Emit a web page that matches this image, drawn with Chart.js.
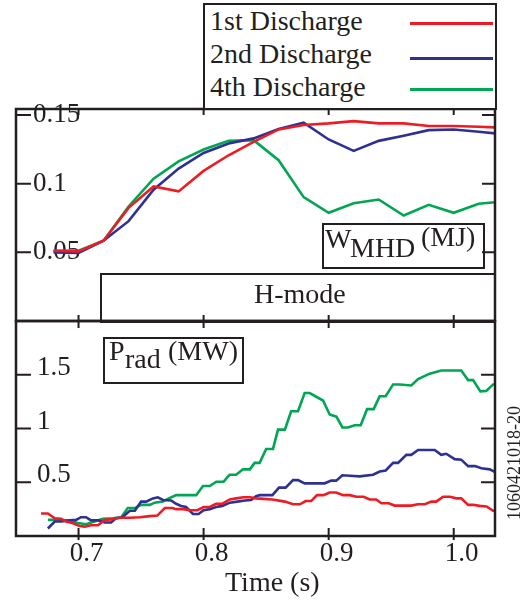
<!DOCTYPE html>
<html>
<head>
<meta charset="utf-8">
<script src="https://cdn.jsdelivr.net/npm/chart.js@4/dist/chart.umd.min.js"></script>
<style>
html,body{margin:0;padding:0;background:#fff;}
#wrap{position:relative;width:526px;height:600px;overflow:hidden;font-family:"Liberation Serif","Times New Roman",serif;color:#231f20;}
canvas{position:absolute;left:0;}
.box{position:absolute;border:2px solid #231f20;box-sizing:border-box;}
.t{position:absolute;white-space:nowrap;line-height:1;font-size:28px;}
.lg{position:absolute;height:3px;}
</style>
</head>
<body>
<div id="wrap">
  <canvas id="top" width="526" height="335" style="top:0"></canvas>
  <canvas id="bot" width="526" height="300" style="top:300px"></canvas>
</div>
<script>
// ---------- data ----------
const seriesNames = ['1st Discharge', '2nd Discharge', '4th Discharge'];
const seriesColors = ['#ed1c24', '#2e3192', '#00a651'];

// W_MHD (MJ) vs time (s)
const tW = [0.68,0.70,0.72,0.74,0.76,0.78,0.80,0.82,0.84,0.86,0.88,0.90,0.92,0.94,0.96,0.98,1.00,1.02,1.034];
const wRed   = [0.0512,0.0507,0.0585,0.0824,0.0980,0.0944,0.1093,0.1207,0.1305,0.1395,0.1427,0.1439,0.1456,0.1439,0.1439,0.1420,0.1420,0.1415,0.1410];
const wBlue  = [0.0500,0.0495,0.0585,0.0727,0.0956,0.1110,0.1224,0.1293,0.1330,0.1398,0.1444,0.1322,0.1239,0.1312,0.1349,0.1390,0.1395,0.1378,0.1366];
const wGreen = [0.0512,0.0512,0.0585,0.0834,0.1037,0.1163,0.1249,0.1312,0.1317,0.1171,0.0902,0.0788,0.0858,0.0885,0.0768,0.0846,0.0788,0.0854,0.0866];

// P_rad (MW) vs time (s)
const pRedT = [0.670,0.6755,0.681,0.686,0.690,0.695,0.701,0.705,0.710,0.7155,0.721,0.726,0.733,0.741,0.749,0.757,0.763,0.769,0.775,0.778,0.784,0.789,0.795,0.800,0.805,0.810,0.815,0.821,0.826,0.832,0.837,0.842,0.848,0.855,0.865,0.8715,0.877,0.8816,0.886,0.8907,0.896,0.9008,0.906,0.9115,0.917,0.922,0.928,0.9328,0.938,0.9422,0.948,0.9528,0.966,0.9715,0.977,0.9821,0.986,0.9915,0.997,1.002,1.006,1.0115,1.0155,1.0208,1.0262,1.0315,1.034];
const pRedV = [0.21,0.21,0.165,0.16,0.135,0.12,0.093,0.087,0.10,0.10,0.15,0.155,0.17,0.17,0.175,0.185,0.19,0.26,0.26,0.25,0.25,0.24,0.24,0.27,0.27,0.30,0.30,0.34,0.35,0.36,0.36,0.35,0.345,0.34,0.32,0.295,0.295,0.325,0.325,0.38,0.38,0.405,0.405,0.38,0.38,0.365,0.365,0.34,0.34,0.305,0.305,0.283,0.283,0.295,0.295,0.32,0.32,0.365,0.365,0.35,0.35,0.29,0.29,0.28,0.275,0.235,0.235];

const pBlueT = [0.6755,0.681,0.686,0.693,0.698,0.702,0.706,0.710,0.716,0.721,0.726,0.730,0.735,0.741,0.745,0.750,0.754,0.7595,0.7634,0.7675,0.774,0.778,0.782,0.786,0.7915,0.796,0.800,0.805,0.810,0.815,0.821,0.827,0.833,0.838,0.842,0.8448,0.855,0.8603,0.8656,0.8715,0.8755,0.8808,0.8968,0.9021,0.906,0.911,0.917,0.9248,0.9355,0.9408,0.9456,0.9515,0.9555,0.9621,0.966,0.9715,0.9848,0.990,0.994,1.0008,1.006,1.0115,1.017,1.0221,1.0288,1.034];
const pBlueV = [0.07,0.135,0.135,0.145,0.15,0.175,0.175,0.145,0.145,0.125,0.125,0.165,0.175,0.235,0.235,0.32,0.32,0.35,0.36,0.335,0.33,0.30,0.28,0.27,0.205,0.205,0.24,0.25,0.27,0.28,0.31,0.32,0.33,0.335,0.37,0.38,0.38,0.45,0.45,0.52,0.52,0.49,0.49,0.515,0.515,0.565,0.56,0.555,0.57,0.60,0.61,0.68,0.68,0.755,0.755,0.80,0.80,0.755,0.765,0.715,0.71,0.65,0.65,0.63,0.62,0.59];

const pGreenT = [0.6755,0.682,0.6874,0.694,0.6994,0.7061,0.7128,0.7194,0.7274,0.7341,0.7394,0.745,0.7501,0.757,0.7608,0.7675,0.7714,0.7781,0.7941,0.7995,0.805,0.8101,0.816,0.8208,0.826,0.8315,0.837,0.8408,0.8448,0.850,0.8555,0.8595,0.865,0.870,0.8755,0.8808,0.8848,0.8955,0.9008,0.9062,0.911,0.9155,0.9208,0.9256,0.9307,0.936,0.9408,0.9456,0.9515,0.957,0.9661,0.9715,0.9808,0.990,1.006,1.0115,1.0155,1.0213,1.026,1.0315,1.034];
const pGreenV = [0.15,0.15,0.145,0.145,0.12,0.11,0.135,0.16,0.165,0.175,0.26,0.26,0.29,0.29,0.31,0.32,0.345,0.38,0.38,0.465,0.465,0.505,0.505,0.57,0.57,0.62,0.62,0.68,0.68,0.81,0.81,0.99,0.99,1.16,1.16,1.33,1.33,1.26,1.13,1.11,1.01,1.01,1.03,1.03,1.18,1.18,1.30,1.30,1.41,1.41,1.40,1.46,1.51,1.54,1.54,1.45,1.45,1.345,1.35,1.41,1.41];

// axis ticks / labels
const timeTicks = [0.7, 0.8, 0.9, 1.0];
const wTicks = [0.05, 0.1, 0.15];
const pTicks = [0.5, 1, 1.5];
const xTitle = 'Time (s)';
const idText = '1060421018-20';

// ---------- helpers ----------
const INK = '#231f20';
const FONT = "'Liberation Serif','Times New Roman',serif";
const pts = (ts, vs) => ts.map((t, i) => ({x: t, y: vs[i]}));
const near = (v, list) => list.some(u => Math.abs(u - v) < 1e-6);
const noPad = s => { s.paddingTop = 0; s.paddingBottom = 0; s.paddingLeft = 0; s.paddingRight = 0; };

const frameTicks = {
  id: 'frameTicks',
  afterDatasetsDraw(chart, args, o) {
    const {ctx, chartArea: a, scales: {x, y}} = chart;
    ctx.save();
    ctx.strokeStyle = INK;
    ctx.lineWidth = 2;
    ctx.beginPath();
    y.ticks.forEach(t => {
      if (!near(t.value, o.yList)) return;
      const py = y.getPixelForValue(t.value);
      ctx.moveTo(a.left, py); ctx.lineTo(a.left + o.yl, py);
      ctx.moveTo(a.right, py); ctx.lineTo(a.right - o.yr, py);
    });
    x.ticks.forEach(t => {
      if (!near(t.value, timeTicks)) return;
      const px = x.getPixelForValue(t.value);
      ctx.moveTo(px, a.top - o.tOut); ctx.lineTo(px, a.top + o.tIn);
      ctx.moveTo(px, a.bottom + o.bOut); ctx.lineTo(px, a.bottom - o.bIn);
    });
    ctx.stroke();
    ctx.lineWidth = 2.5;
    ctx.strokeRect(a.left, a.top, a.width, a.height);
    ctx.restore();
  }
};

function makeDatasets(list) {
  return list.map((d, i) => ({
    label: seriesNames[i],
    data: d,
    borderColor: seriesColors[i],
    backgroundColor: seriesColors[i],
    borderWidth: 2.6,
    pointRadius: 0,
    tension: 0,
    fill: false
  }));
}

function yScale(max, step, list, pad, off) {
  return {
    type: 'linear', min: 0, max: max,
    grid: {display: false, drawTicks: false},
    border: {display: false},
    afterFit: s => { s.width = 0; noPad(s); },
    ticks: {
      stepSize: step, includeBounds: false, mirror: true, padding: pad, labelOffset: off,
      color: INK, font: {family: FONT, size: 27},
      callback: v => near(v, list) ? String(+v.toFixed(2)) : ''
    }
  };
}

const common = {
  responsive: false, animation: false, devicePixelRatio: 1,
  events: [],
  plugins: {legend: {display: false}, tooltip: {enabled: false}}
};

// ---------- top panel: W_MHD ----------
new Chart(document.getElementById('top'), {
  type: 'line',
  data: {datasets: makeDatasets([pts(tW, wRed), pts(tW, wBlue), pts(tW, wGreen)])},
  options: Object.assign({}, common, {
    layout: {padding: {left: 16, right: 31, top: 109, bottom: 14}},
    plugins: Object.assign({}, common.plugins, {
      frameTicks: {yList: wTicks, yl: 15, yr: 13, tOut: 0, tIn: 6, bOut: 0, bIn: 6}
    }),
    scales: {
      x: {type: 'linear', min: 0.65, max: 1.033, display: false,
          afterFit: s => { s.height = 0; noPad(s); },
          ticks: {stepSize: 0.1, includeBounds: false}},
      y: yScale(0.1544, 0.05, wTicks, 17, 0)
    }
  }),
  plugins: [frameTicks]
});

// ---------- bottom panel: P_rad ----------
new Chart(document.getElementById('bot'), {
  type: 'line',
  data: {datasets: makeDatasets([pts(pRedT, pRedV), pts(pBlueT, pBlueV), pts(pGreenT, pGreenV)])},
  options: Object.assign({}, common, {
    layout: {padding: {left: 16, right: 31, top: 21, bottom: 0}},
    plugins: Object.assign({}, common.plugins, {
      frameTicks: {yList: pTicks, yl: 15, yr: 14, tOut: 0, tIn: 7, bOut: 4, bIn: 8}
    }),
    scales: {
      x: {type: 'linear', min: 0.65, max: 1.033,
          grid: {display: false, drawTicks: false},
          border: {display: false},
          afterFit: s => { s.height = 64; noPad(s); },
          ticks: {stepSize: 0.1, includeBounds: false, padding: 2, labelOffset: 8,
                  maxRotation: 0, color: INK, font: {family: FONT, size: 27},
                  callback: v => near(v, timeTicks) ? v.toFixed(1) : ''}},
      y: yScale(2.0, 0.5, pTicks, 21, -7)
    }
  }),
  plugins: [frameTicks]
});

// ---------- text overlays ----------
const wrap = document.getElementById('wrap');
function el(cls, style, html) {
  const d = document.createElement('div');
  d.className = cls;
  Object.assign(d.style, style);
  if (html !== undefined) d.textContent = html;
  wrap.appendChild(d);
  return d;
}
// legend
el('box', {left: '203px', top: '3px', width: '294px', height: '107px', background: '#fff'});
const rowTops = [6.5, 39.5, 73];
const lineYs = [23, 58, 89];
seriesNames.forEach((n, i) => {
  el('t', {left: '210px', top: rowTops[i] + 'px'}, n);
  el('lg', {left: '410px', top: (lineYs[i] - 1.5) + 'px', width: '83px', background: seriesColors[i]});
});
// W_MHD label
el('box', {left: '322px', top: '223px', width: '163px', height: '46px'});
el('t', {left: '325px', top: '224.5px'}, 'W');
el('t', {left: '350px', top: '234px'}, 'MHD');
el('t', {left: '421px', top: '222.5px'}, '(MJ)');
// H-mode
el('box', {left: '100px', top: '273px', width: '396px', height: '50px'});
el('t', {left: '254px', top: '280px'}, 'H-mode');
// P_rad label
el('box', {left: '103px', top: '337px', width: '141px', height: '47px'});
el('t', {left: '109px', top: '336.5px'}, 'P');
el('t', {left: '125px', top: '345px'}, 'rad');
el('t', {left: '168px', top: '336.5px'}, '(MW)');
// x title
el('t', {left: '225px', top: '567.5px'}, xTitle);
// rotated id
el('t', {left: '514px', top: '463px', fontSize: '18px', transform: 'translate(-50%,-50%) rotate(-90deg)'}, idText);
</script>
</body>
</html>
